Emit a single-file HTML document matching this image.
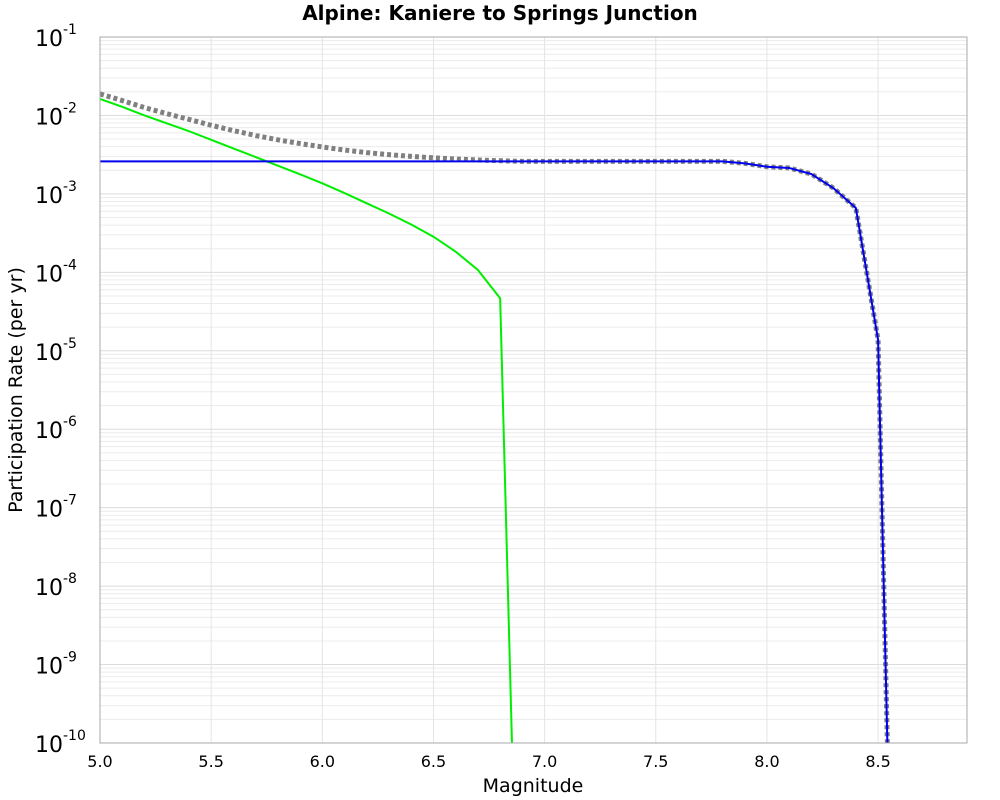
<!DOCTYPE html>
<html><head><meta charset="utf-8"><style>
html,body{margin:0;padding:0;background:#fff;font-family:"Liberation Sans",sans-serif;width:1000px;height:800px;overflow:hidden;}
svg{display:block;}
svg text{font-family:"DejaVu Sans","Liberation Sans",sans-serif;}
</style></head><body>
<svg id="chart" width="1000" height="800" xmlns="http://www.w3.org/2000/svg">
<text x="500" y="20" text-anchor="middle" font-size="20" font-weight="bold">Alpine: Kaniere to Springs Junction</text>
<g id="grid"></g>
<g id="plot"></g>
<rect x="100" y="37" width="867" height="706" fill="none" stroke="#aaa" stroke-width="1"/>
<g id="xticks"></g><g id="yticks"></g>
<text x="533" y="792" text-anchor="middle" font-size="19">Magnitude</text>
<text transform="translate(22,390) rotate(-90)" text-anchor="middle" font-size="19">Participation Rate (per yr)</text>
</svg>
<script>
const mags = [5.0,5.1,5.2,5.3,5.4,5.5,5.6,5.7,5.8,5.9,6.0,6.1,6.2,6.3,6.4,6.5,6.6,6.7,6.8,6.9,7.0,7.1,7.2,7.3,7.4,7.5,7.6,7.7,7.8,7.9,8.0,8.1,8.2,8.3,8.4,8.5,8.55];
const greenLog = [-1.79,-1.89,-2.0,-2.1,-2.2,-2.31,-2.42,-2.53,-2.64,-2.75,-2.865,-2.99,-3.12,-3.25,-3.39,-3.546,-3.737,-3.97,-4.33,-15,null,null,null,null,null,null,null,null,null,null,null,null,null,null,null,null,null];
const blueRate = [2.6e-3,2.6e-3,2.6e-3,2.6e-3,2.6e-3,2.6e-3,2.6e-3,2.6e-3,2.6e-3,2.6e-3,2.6e-3,2.6e-3,2.6e-3,2.6e-3,2.6e-3,2.6e-3,2.6e-3,2.6e-3,2.6e-3,2.6e-3,2.6e-3,2.6e-3,2.6e-3,2.6e-3,2.6e-3,2.6e-3,2.6e-3,2.6e-3,2.6e-3,2.45e-3,2.22e-3,2.14e-3,1.79e-3,1.18e-3,6.6e-4,1.38e-5,1e-11];
const xTicks = ["5.0","5.5","6.0","6.5","7.0","7.5","8.0","8.5"];
const yDecades = [-1,-2,-3,-4,-5,-6,-7,-8,-9,-10];
const NS="http://www.w3.org/2000/svg";
const X0=100,X1=967,Y0=37,Y1=743, XMIN=5.0,XMAX=8.9, LMAX=-1,LMIN=-10;
const sx=m=>X0+(m-XMIN)/(XMAX-XMIN)*(X1-X0);
const sy=l=>Y0+(LMAX-l)/(LMAX-LMIN)*(Y1-Y0);
function mk(tag,attrs,parent){const e=document.createElementNS(NS,tag);for(const k in attrs)e.setAttribute(k,attrs[k]);parent.appendChild(e);return e;}
const grid=document.getElementById('grid'),plot=document.getElementById('plot');
for(let d=LMIN;d<LMAX;d++){for(let k=1;k<10;k++){const y=sy(d+Math.log10(k));
 const l=mk('line',{x1:X0,x2:X1,y1:y,y2:y,stroke:k==1?'#dcdcdc':'#ececec','stroke-width':1},grid);
 
 }}
xTicks.forEach(t=>{const x=sx(+t);
 const l=mk('line',{x1:x,x2:x,y1:Y0,y2:Y1,stroke:'#e4e4e4','stroke-width':1},grid);
 
 
 const tx=mk('text',{x:x,y:767,'text-anchor':'middle','font-size':16},document.getElementById('xticks'));
 tx.textContent=t;
 
 });
yDecades.forEach(d=>{const y=sy(d);
 const tx=mk('text',{x:35,y:y+9,'font-size':22},document.getElementById('yticks'));
 tx.textContent='10';
 
 
 const s=mk('tspan',{dy:-12,'font-size':14},tx);s.textContent=String(d);});
function path(pts){return pts.map((p,i)=>(i?'L':'M')+p[0].toFixed(2)+' '+p[1].toFixed(2)).join(' ');}
const clip=mk('clipPath',{id:'pc'},plot);mk('rect',{x:X0,y:Y0,width:X1-X0,height:Y1-Y0},clip);
const g=mk('g',{'clip-path':'url(#pc)'},plot);
const totPts=[],bluePts=[],greenPts=[];
mags.forEach((m,i)=>{const b=blueRate[i];const gr=greenLog[i]==null?0:Math.pow(10,greenLog[i]);
 totPts.push([sx(m),sy(Math.log10(b+gr))]);bluePts.push([sx(m),sy(Math.log10(b))]);
 if(greenLog[i]!=null)greenPts.push([sx(m),sy(greenLog[i])]);});
const tot=mk('path',{d:path(totPts),fill:'none',stroke:'#808080','stroke-width':5,'stroke-dasharray':'4 3'},g);


const gl=mk('path',{d:path(greenPts),fill:'none',stroke:'#00ee00','stroke-width':2},g);


const bl=mk('path',{d:path(bluePts),fill:'none',stroke:'#0000ee','stroke-width':2},g);


</script>
</body></html>
